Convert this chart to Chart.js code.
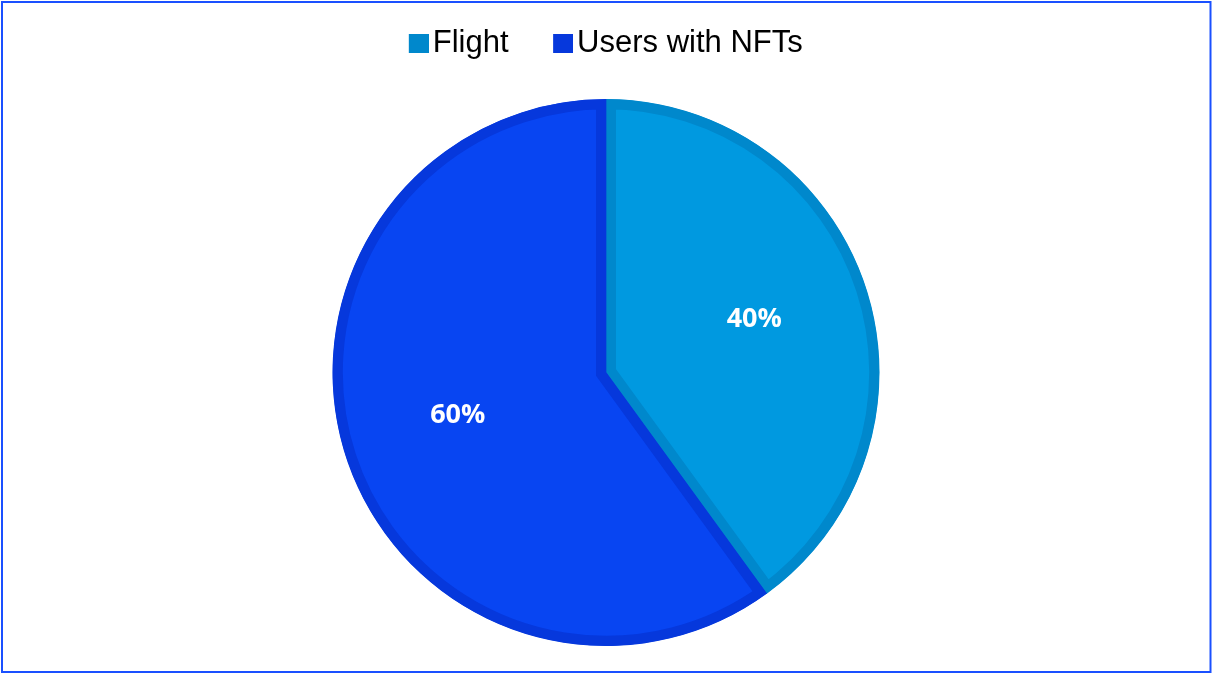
<!DOCTYPE html>
<html>
<head>
<meta charset="utf-8">
<script src="https://cdn.jsdelivr.net/npm/chart.js@4/dist/chart.umd.min.js"></script>
<style>
html,body{margin:0;padding:0;background:#fff;overflow:hidden}
canvas{display:block}
</style>
</head>
<body>
<canvas id="c" width="1212" height="673"></canvas>
<script>
const categories = ['Flight', 'Users with NFTs'];
const shares = [40, 60];
const fillColors = ['#0099E0', '#0845F2'];
const edgeColors = ['#0088CC', '#0638DC'];

function legendSwatch(color) {
  const cv = document.createElement('canvas');
  cv.width = 31; cv.height = 19;
  const g = cv.getContext('2d');
  g.fillStyle = color;
  g.fillRect(11, 0, 20, 19);
  return cv;
}

const sliceLabels = {
  id: 'sliceLabels',
  afterDatasetsDraw(chart) {
    const ctx = chart.ctx;
    const meta = chart.getDatasetMeta(0);
    const data = chart.data.datasets[0].data;
    const total = data.reduce((a, b) => a + b, 0);
    ctx.save();
    ctx.font = 'bold 27px "Open Sans"';
    ctx.fillStyle = '#ffffff';
    ctx.textAlign = 'center';
    ctx.textBaseline = 'middle';
    meta.data.forEach((arc, i) => {
      const p = arc.getProps(['x', 'y', 'startAngle', 'endAngle', 'outerRadius'], true);
      const mid = (p.startAngle + p.endAngle) / 2;
      const r = p.outerRadius * 0.57;
      ctx.fillText(Math.round(data[i] / total * 100) + '%', p.x + Math.cos(mid) * r, p.y + Math.sin(mid) * r - 5);
    });
    ctx.restore();
  }
};

const frame = {
  id: 'frame',
  afterDraw(chart) {
    const ctx = chart.ctx;
    ctx.save();
    ctx.strokeStyle = '#1a50ff';
    ctx.lineWidth = 2;
    ctx.strokeRect(2, 2, chart.width - 3.5, chart.height - 3);
    ctx.restore();
  }
};

function build() {
  new Chart(document.getElementById('c'), {
    type: 'pie',
    data: {
      labels: categories,
      datasets: [{
        data: shares,
        backgroundColor: fillColors,
        borderColor: edgeColors,
        borderWidth: 10,
        borderAlign: 'inner',
        borderJoinStyle: 'miter'
      }]
    },
    options: {
      responsive: false,
      devicePixelRatio: 1,
      animation: false,
      events: [],
      layout: { padding: { top: -17, bottom: 27, left: 0, right: 0 } },
      plugins: {
        tooltip: { enabled: false },
        legend: {
          position: 'top',
          weight: 3000,
          labels: {
            font: { family: '"Liberation Sans", Arial, sans-serif', size: 31 },
            color: '#000000',
            padding: 45,
            usePointStyle: true,
            pointStyleWidth: 8,
            boxHeight: 19,
            generateLabels() {
              return categories.map((c, i) => ({
                text: c,
                fillStyle: edgeColors[i],
                strokeStyle: edgeColors[i],
                lineWidth: 0,
                pointStyle: legendSwatch(edgeColors[i]),
                hidden: false,
                index: i,
                fontColor: '#000000'
              }));
            }
          }
        },
        title: {
          display: true,
          text: ' ',
          position: 'top',
          weight: 2000,
          font: { size: 10, lineHeight: 1.2 },
          padding: { top: 18, bottom: 0 }
        }
      }
    },
    plugins: [sliceLabels, frame]
  });
}

Promise.all([
  document.fonts.load('bold 27px "Open Sans"'),
  document.fonts.load('31px "Liberation Sans"')
]).then(build, build);
</script>
</body>
</html>
